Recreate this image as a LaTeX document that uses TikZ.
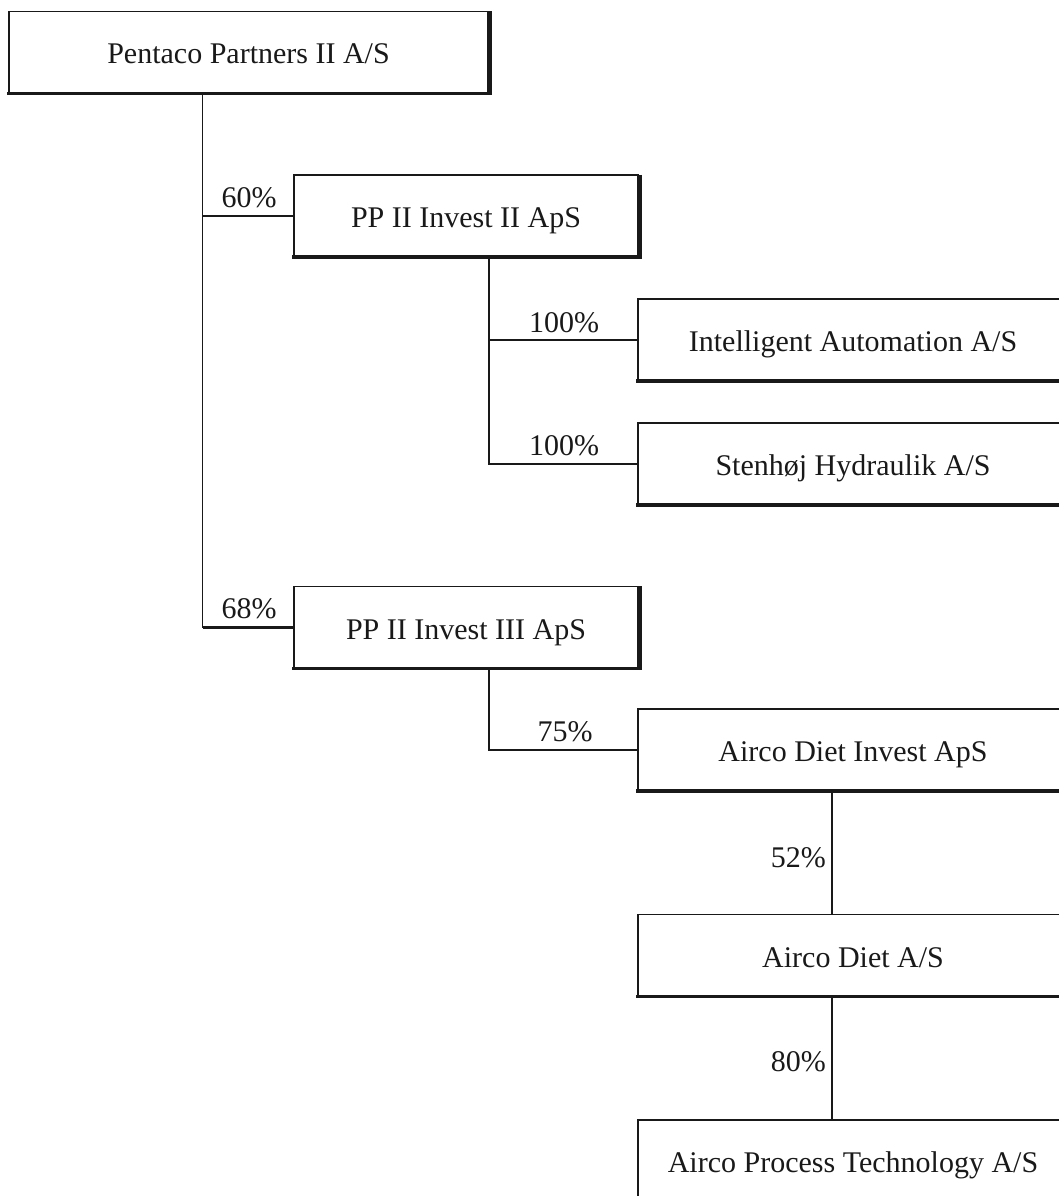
\documentclass[tikz,border=0pt]{standalone}
\usepackage{fontspec}
\setmainfont{Liberation Serif}
\begin{document}
\begin{tikzpicture}[x=1pt,y=-1pt,
  box/.style={draw=black!90,line width=1.8pt,rectangle,minimum height=82pt,inner sep=0pt,text height=24pt,text depth=1pt,font=\fontsize{30}{32}\selectfont,text=black!90},
  conn/.style={draw=black!90,line width=1.6pt},
  pct/.style={font=\fontsize{30}{32}\selectfont,text=black!90,inner sep=0pt},
  sh/.style={draw=black!90,line width=3.2pt}]
\useasboundingbox (0,0) rectangle (1059,1196);
\clip (0,0) rectangle (1059,1196);
% boxes
\node[box,minimum width=479pt] (p) at (248.5,52.5) {Pentaco Partners II A/S};
\node[box,minimum width=344pt] (b2) at (466,216) {PP II Invest II ApS};
\node[box,minimum width=430pt] (ia) at (853,340) {Intelligent Automation A/S};
\node[box,minimum width=430pt] (sh) at (853,464) {Stenhøj Hydraulik A/S};
\node[box,minimum width=344pt] (b5) at (466,627.5) {PP II Invest III ApS};
\node[box,minimum width=430pt] (adi) at (853,750) {Airco Diet Invest ApS};
\node[box,minimum width=430pt] (ad) at (853,955.5) {Airco Diet A/S};
\node[box,minimum width=430pt] (apt) at (853,1161) {Airco Process Technology A/S};
% shadow edges
\foreach \n in {p,b2,ia,sh,b5,adi,ad,apt}{
  \draw[sh] ([shift={(1pt,-0.8pt)}]\n.north east) -- ([shift={(1pt,1pt)}]\n.south east) -- ([shift={(-0.8pt,1pt)}]\n.south west);
}
% connectors
\coordinate (j1) at ([xshift=194.5pt]p.south west);
\draw[conn] (j1) |- (b2.west);
\draw[conn] (j1) |- (b5.west);
\draw[draw=black!90,line width=3pt] (b5.west) -- (b5.west -| j1);
\coordinate (j2) at ([xshift=23pt]b2.south);
\draw[conn] (j2) |- (ia.west);
\draw[conn] (j2) |- (sh.west);
\coordinate (j3) at ([xshift=23pt]b5.south);
\draw[conn] (j3) |- (adi.west);
\coordinate (j4) at ([xshift=-21pt]adi.south);
\draw[conn] (j4) -- (j4 |- ad.north);
\coordinate (j5) at ([xshift=-21pt]ad.south);
\draw[conn] (j5) -- (j5 |- apt.north);
% labels
\node[pct,anchor=base] (l1) at (249,207) {60\%};
\node[pct,anchor=base] (l2) at (564,332) {100\%};
\node[pct,anchor=base] (l3) at (564,455) {100\%};
\node[pct,anchor=base] (l4) at (249,618) {68\%};
\node[pct,anchor=base] (l5) at (565,741) {75\%};
\node[pct,anchor=base east] (l6) at (826,867) {52\%};
\node[pct,anchor=base east] (l7) at (826,1071) {80\%};
\end{tikzpicture}
\end{document}
